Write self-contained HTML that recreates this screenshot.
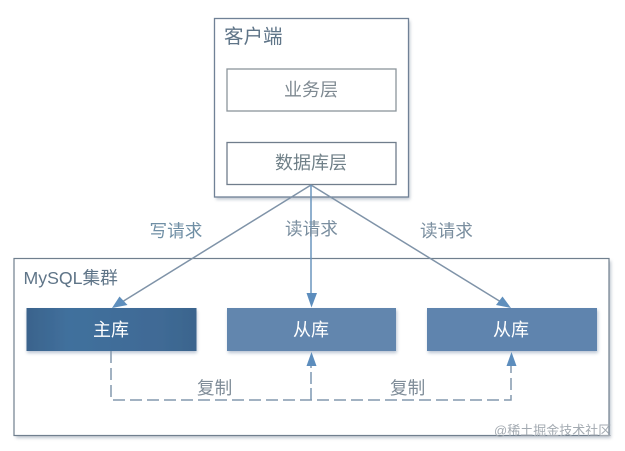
<!DOCTYPE html>
<html><head><meta charset="utf-8">
<style>
html,body{margin:0;padding:0;background:#fff;width:625px;height:451px;overflow:hidden}
svg{display:block}
text{font-family:"Liberation Sans","Noto Sans CJK SC",sans-serif}
</style></head><body>
<svg width="625" height="451" viewBox="0 0 625 451" xmlns="http://www.w3.org/2000/svg">
<defs>
<linearGradient id="m" x1="0" y1="0" x2="1" y2="0">
<stop offset="0" stop-color="#3a638c"/><stop offset=".25" stop-color="#41709d"/><stop offset=".8" stop-color="#3f6a95"/><stop offset="1" stop-color="#3a648d"/>
</linearGradient>
<filter id="s" x="-5%" y="-5%" width="110%" height="115%"><feGaussianBlur stdDeviation="1.5"/></filter>
<filter id="b" x="0" y="0" width="100%" height="100%"><feGaussianBlur stdDeviation="0.3"/></filter>
</defs>
<g filter="url(#b)">
<rect width="625" height="451" fill="#fff"/>
<!-- shadows -->
<rect x="216" y="21" width="194" height="178.500" fill="#8a97a8" opacity=".55" filter="url(#s)"/>
<rect x="16" y="261" width="595" height="177" fill="#8a97a8" opacity=".55" filter="url(#s)"/>
<!-- client -->
<rect x="214.500" y="18.500" width="194" height="178.500" fill="#fff" stroke="#6f8196" stroke-width="1.300"/>
<rect x="227" y="69" width="169" height="42" fill="#fff" stroke="#8b949c" stroke-width="1.300"/>
<rect x="227" y="142.500" width="169" height="42" fill="#fff" stroke="#6f7d8c" stroke-width="1.300"/>
<text x="224" y="43" font-size="19.500" fill="#5f7488">客户端</text>
<text x="311" y="96" font-size="18" fill="#7f8a92" text-anchor="middle">业务层</text>
<text x="311" y="169" font-size="18" fill="#6f8088" text-anchor="middle">数据库层</text>
<!-- cluster -->
<rect x="14" y="258.500" width="595" height="177" fill="#fff" stroke="#6f7f8e" stroke-width="1.200"/>
<text x="23.500" y="284" font-size="17.700" fill="#5f7488">MySQL集群</text>
<!-- nodes -->
<rect x="27" y="310" width="170" height="43" fill="#8a9db5" opacity=".6" filter="url(#s)"/>
<rect x="228" y="310" width="169" height="43" fill="#8a9db5" opacity=".6" filter="url(#s)"/>
<rect x="428" y="310" width="170" height="43" fill="#8a9db5" opacity=".6" filter="url(#s)"/>
<rect x="26.500" y="308" width="170" height="43" fill="url(#m)"/>
<rect x="227" y="308" width="169" height="43" fill="#6286ae"/>
<rect x="427" y="308" width="170" height="43" fill="#5f84ae"/>
<text x="111" y="336" font-size="18" fill="#fff" text-anchor="middle">主库</text>
<text x="311" y="336" font-size="18" fill="#fff" text-anchor="middle">从库</text>
<text x="511" y="336" font-size="18" fill="#fff" text-anchor="middle">从库</text>
<!-- request arrows -->
<line x1="311" y1="185" x2="122" y2="302" stroke="#7f93a8" stroke-width="1.500"/>
<line x1="311" y1="185" x2="501" y2="302" stroke="#7f93a8" stroke-width="1.500"/>
<line x1="311" y1="185" x2="311" y2="296" stroke="#6b95bd" stroke-width="1.500"/>
<polygon points="112,308 119.500,296.500 127.500,305" fill="#5f8fbd"/>
<polygon points="511,308 502.500,296.500 496,305" fill="#5f8fbd"/>
<polygon points="311.500,307.500 306.500,293 317,293" fill="#5b8dbd"/>
<!-- dashed -->
<path d="M111 351V400H511V360" fill="none" stroke="#8498ad" stroke-width="1.500" stroke-dasharray="12 5"/>
<path d="M311 400V360" fill="none" stroke="#7d97b2" stroke-width="1.500" stroke-dasharray="12 4"/>
<polygon points="311.500,352 306.500,366 316.500,366" fill="#5b8dbd"/>
<polygon points="511.500,352 506.500,366 516.500,366" fill="#5b8dbd"/>
<!-- labels -->
<text x="149.500" y="237" font-size="17.600" fill="#6f8fa5">写请求</text>
<text x="285" y="235" font-size="17.600" fill="#7a8e9f">读请求</text>
<text x="420" y="237" font-size="17.600" fill="#7a8e9f">读请求</text>
<text x="197" y="394" font-size="17.600" fill="#7f8c98">复制</text>
<text x="390" y="394" font-size="17.600" fill="#7f8c98">复制</text>
<text x="494" y="435" font-size="13" fill="#a3aab1">@稀土掘金技术社区</text>
</g>
</svg>
</body></html>
